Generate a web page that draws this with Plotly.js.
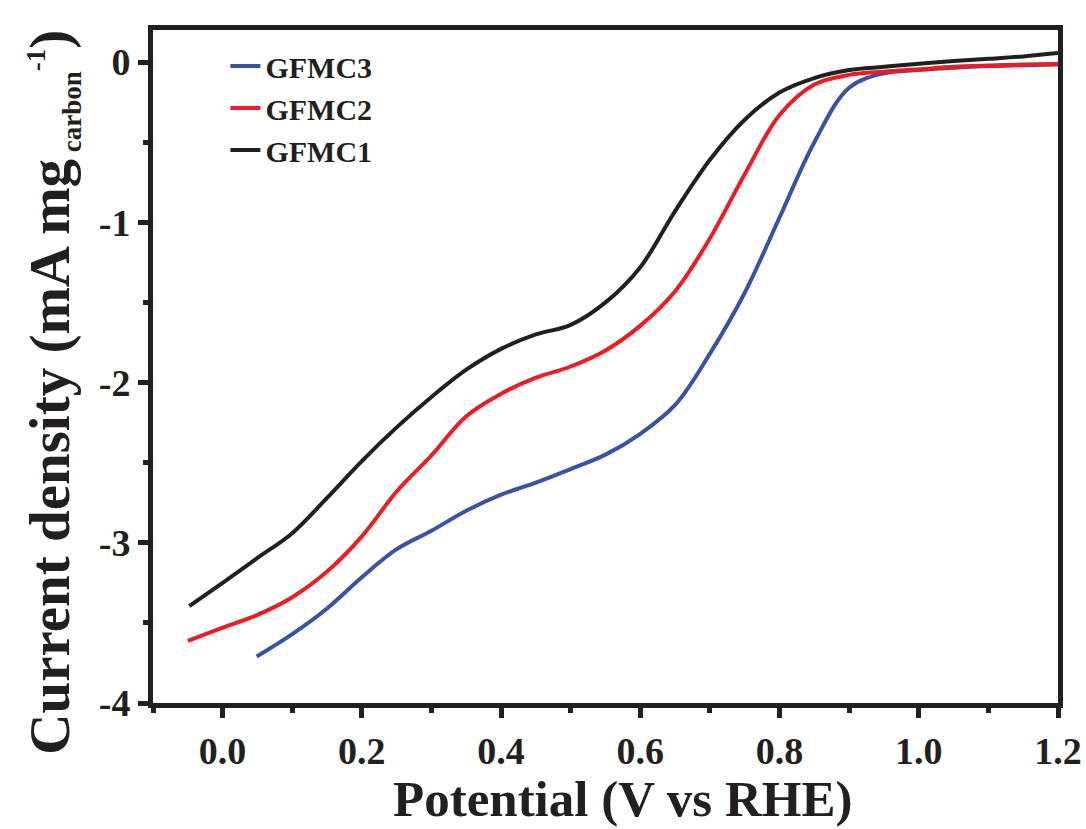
<!DOCTYPE html>
<html>
<head>
<meta charset="utf-8">
<script src="https://cdn.plot.ly/plotly-3.0.1.min.js"></script>
<style>html,body{margin:0;padding:0;background:#fff;}#chart{width:1086px;height:829px;}</style>
</head>
<body>
<div id="chart"></div>
<script>
// Series names
const seriesNames = ["GFMC1", "GFMC2", "GFMC3"];
const seriesColors = ["#231f20", "#ed1c24", "#3953a4"];

// GFMC1 (black)
const gfmc1X = [-0.048, 0.0, 0.05, 0.10, 0.15, 0.20, 0.25, 0.30, 0.35, 0.40, 0.45, 0.50, 0.55, 0.60, 0.65, 0.70, 0.75, 0.80, 0.85, 0.90, 0.95, 1.00, 1.05, 1.10, 1.15, 1.20];
const gfmc1Y = [-3.395, -3.25, -3.095, -2.94, -2.72, -2.49, -2.28, -2.09, -1.92, -1.79, -1.70, -1.64, -1.50, -1.28, -0.93, -0.61, -0.36, -0.19, -0.10, -0.05, -0.03, -0.01, 0.006, 0.02, 0.035, 0.056];

// GFMC2 (red)
const gfmc2X = [-0.05, 0.0, 0.05, 0.10, 0.15, 0.20, 0.25, 0.30, 0.35, 0.40, 0.45, 0.50, 0.55, 0.60, 0.65, 0.70, 0.75, 0.80, 0.85, 0.90, 0.95, 1.00, 1.05, 1.10, 1.15, 1.20];
const gfmc2Y = [-3.613, -3.53, -3.45, -3.34, -3.18, -2.96, -2.68, -2.455, -2.21, -2.07, -1.97, -1.90, -1.80, -1.645, -1.43, -1.10, -0.70, -0.33, -0.14, -0.08, -0.06, -0.045, -0.03, -0.022, -0.016, -0.012];

// GFMC3 (blue)
const gfmc3X = [0.049, 0.10, 0.15, 0.20, 0.25, 0.30, 0.35, 0.40, 0.45, 0.50, 0.55, 0.60, 0.65, 0.70, 0.75, 0.80, 0.85, 0.90, 0.95, 1.00, 1.05, 1.10, 1.15, 1.20];
const gfmc3Y = [-3.71, -3.57, -3.41, -3.215, -3.04, -2.925, -2.80, -2.70, -2.625, -2.54, -2.45, -2.32, -2.14, -1.82, -1.44, -0.97, -0.50, -0.16, -0.07, -0.05, -0.035, -0.025, -0.02, -0.015];

// Axis ticks
const xTickVals = [0.0, 0.2, 0.4, 0.6, 0.8, 1.0, 1.2];
const xTickText = ["0.0", "0.2", "0.4", "0.6", "0.8", "1.0", "1.2"];
const xMinorVals = [-0.1, 0.1, 0.3, 0.5, 0.7, 0.9, 1.1];
const yTickVals = [-4, -3, -2, -1, 0];
const yTickText = ["-4", "-3", "-2", "-1", "0"];
const yMinorVals = [-3.5, -2.5, -1.5, -0.5];

// Titles
const xTitle = "Potential (V vs RHE)";
const yTitle = "Current density (mA mg<sub><span style='font-size:27px'> carbon</span></sub><sup><span style='font-size:27px'>-1</span></sup>)";

const FONT = "Liberation Serif, Times New Roman, serif";
const INK = "#231f20";

function mk(x, y, i, rank) {
  return {
    x: x, y: y, name: seriesNames[i], type: "scatter", mode: "lines",
    line: {color: seriesColors[i], width: 4, shape: "spline", smoothing: 1},
    legendrank: rank
  };
}

const traces = [
  mk(gfmc1X, gfmc1Y, 0, 3),
  mk(gfmc3X, gfmc3Y, 2, 1),
  mk(gfmc2X, gfmc2Y, 1, 2)
];

function axisCommon(sz) {
  return {
    showline: true, linecolor: INK, linewidth: 5, mirror: true,
    ticks: "outside", ticklen: 10, tickwidth: 5, tickcolor: INK,
    showgrid: false, zeroline: false,
    tickfont: {family: FONT, size: sz, color: INK, weight: "bold"}
  };
}

const layout = {
  width: 1086, height: 829,
  margin: {l: 153, r: 28, t: 30, b: 126},
  paper_bgcolor: "#fff", plot_bgcolor: "#fff",
  font: {family: FONT, color: INK},
  showlegend: true,
  legend: {
    x: 0.08, y: 0.985, xanchor: "left", yanchor: "top",
    bgcolor: "rgba(0,0,0,0)", borderwidth: 0,
    font: {family: FONT, size: 30, color: INK, weight: "bold"}
  },
  xaxis: Object.assign(axisCommon(38), {
    range: [-0.1, 1.2], tickvals: xTickVals, ticktext: xTickText,
    minor: {tickvals: xMinorVals, ticks: "outside", ticklen: 5, tickwidth: 5, tickcolor: INK}
  }),
  yaxis: Object.assign(axisCommon(38), {
    range: [-4, 0.2], tickvals: yTickVals, ticktext: yTickText,
    minor: {tickvals: yMinorVals, ticks: "outside", ticklen: 5, tickwidth: 5, tickcolor: INK}
  }),
  annotations: [
    {text: xTitle, xref: "paper", yref: "paper", x: 0.519, y: -0.143, xanchor: "center", yanchor: "middle",
     showarrow: false, font: {family: FONT, size: 51, color: INK, weight: "bold"}},
    {text: yTitle, xref: "paper", yref: "paper", x: -0.112, y: 0.462, xanchor: "center", yanchor: "middle",
     textangle: -90, showarrow: false, font: {family: FONT, size: 57, color: INK, weight: "bold"}}
  ]
};

Plotly.newPlot("chart", traces, layout, {staticPlot: true, displayModeBar: false});
</script>
</body>
</html>
